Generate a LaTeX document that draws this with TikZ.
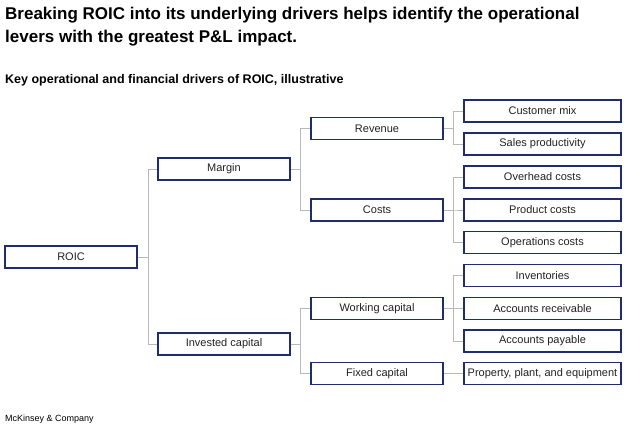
\documentclass[tikz,border=0pt]{standalone}
\usepackage{fontspec}
\setmainfont{Liberation Sans}
\begin{document}
\begin{tikzpicture}[x=1pt,y=-1pt,
  box/.style={draw=navy,line width=1.1pt,minimum width=132pt,minimum height=22pt,inner sep=0pt,font=\fontsize{11}{13}\selectfont,text=txt},
  leaf/.style={box,minimum width=157pt},
  ttl/.style={anchor=base west,inner sep=0pt,font=\bfseries\fontsize{17}{23}\selectfont},
  conn/.style={draw=lineg,line width=0.8pt}]
\definecolor{navy}{HTML}{1F2D6E}
\definecolor{lineg}{HTML}{B8B8B8}
\definecolor{txt}{HTML}{222222}
\useasboundingbox (0,0) rectangle (630,429);
\node[ttl] (title1) at (5,19) {Breaking ROIC into its underlying drivers helps identify the operational};
\node[ttl] (title2) at (5,42) {levers with the greatest P\&L impact.};
\node[anchor=base west,inner sep=0pt,font=\bfseries\fontsize{12.5}{15}\selectfont] (sub) at (5,83) {Key operational and financial drivers of ROIC, illustrative};
\node[anchor=base west,inner sep=0pt,font=\fontsize{9}{11}\selectfont] (foot) at (5,421) {McKinsey \& Company};
% level 0
\node[box] (roic) at (71,257) {ROIC};
% level 1
\node[box] (margin) at (224,169) {Margin};
\node[box] (inv) at (224,344) {Invested capital};
% level 2
\node[box] (rev) at (377,128.5) {Revenue};
\node[box] (costs) at (377,210) {Costs};
\node[box] (wc) at (377,308.5) {Working capital};
\node[box] (fc) at (377,373.5) {Fixed capital};
% leaves
\node[leaf] (cm) at (542.5,111) {Customer mix};
\node[leaf] (sp) at (542.5,144) {Sales productivity};
\node[leaf] (oh) at (542.5,177) {Overhead costs};
\node[leaf] (pc) at (542.5,210) {Product costs};
\node[leaf] (oc) at (542.5,242.5) {Operations costs};
\node[leaf] (in) at (542.5,275.5) {Inventories};
\node[leaf] (ar) at (542.5,308.5) {Accounts receivable};
\node[leaf] (ap) at (542.5,341) {Accounts payable};
\node[leaf] (ppe) at (542.5,373.5) {Property, plant, and equipment};
% connectors
\foreach \p/\c/\t in {roic/margin/148,roic/inv/148,margin/rev/300,margin/costs/300,inv/wc/300,inv/fc/300,rev/cm/453,rev/sp/453,costs/oh/453,costs/pc/453,costs/oc/453,wc/in/453,wc/ar/453,wc/ap/453,fc/ppe/453}
  \draw[conn] (\p.east) -- (\t,0 |- \p.east) |- (\c.west);
\end{tikzpicture}
\end{document}
